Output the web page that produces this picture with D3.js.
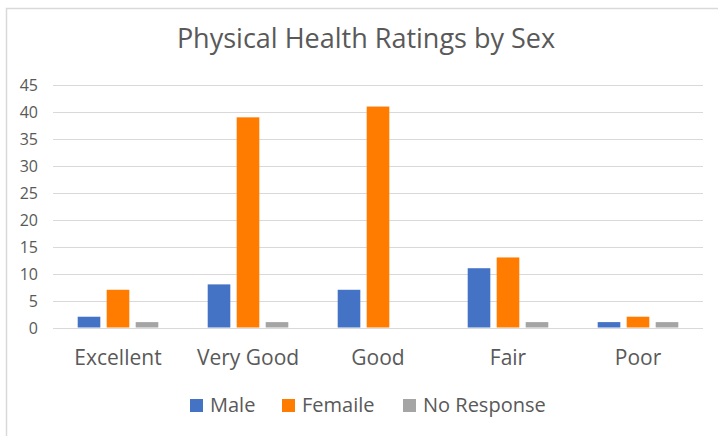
<!DOCTYPE html>
<html>
<head>
<meta charset="utf-8">
<script src="https://cdn.jsdelivr.net/npm/d3@7"></script>
<style>
  body { margin: 0; background: #fff; }
  svg { display: block; font-family: "Open Sans", "Liberation Sans", sans-serif; }
</style>
</head>
<body>
<svg></svg>
<script>
// grouped bar chart: physical health ratings by sex

var categories = ["Excellent", "Very Good", "Good", "Fair", "Poor"];
var seriesNames = ["Male", "Femaile", "No Response"];
var male = [2, 8, 7, 11, 1];
var female = [7, 39, 41, 13, 2];
var noResponse = [1, 1, 0, 1, 1];
var yTicks = [0, 5, 10, 15, 20, 25, 30, 35, 40, 45];

var color = ["#4472C4", "#FF7C00", "#A5A5A5"];
var font = "'Open Sans', 'Liberation Sans', sans-serif";

var width = 718;
var height = 436;

var data = categories.map(function(c, i) {
    return { cat: c, values: [male[i], female[i], noResponse[i]] };
});

var svg = d3.select("svg")
    .attr("width", width)
    .attr("height", height);

// chart frame
svg.append("path")
    .attr("d", "M6.5," + height + "V8.5H" + width)
    .attr("fill", "none")
    .attr("stroke", "#d9d9d9")
    .attr("stroke-width", 1.5);

var x0 = d3.scaleBand()
    .domain(categories)
    .range([53, 703])
    .paddingInner(0.38)
    .paddingOuter(0.19);

var x1 = d3.scaleBand()
    .domain(seriesNames)
    .range([0, x0.bandwidth()])
    .paddingInner(0.22);

var y = d3.scaleLinear()
    .domain([0, 45])
    .range([327.5, 85]);

// gridlines
svg.append("g")
    .selectAll("line")
    .data(yTicks)
    .enter()
    .append("line")
    .attr("x1", 53)
    .attr("x2", 703)
    .attr("y1", function(d) { return Math.round(y(d)) + 0.5; })
    .attr("y2", function(d) { return Math.round(y(d)) + 0.5; })
    .attr("stroke", "#d9d9d9")
    .attr("stroke-width", 1);

// y axis labels
var yAxis = d3.axisLeft(y).tickValues(yTicks).tickSize(0).tickPadding(0);
var gy = svg.append("g")
    .attr("transform", "translate(38,0)")
    .call(yAxis)
    .attr("font-family", font)
    .attr("font-size", 16);
gy.select(".domain").remove();
gy.selectAll("text")
    .attr("fill", "#595959")
    .attr("dy", "0.35em");

// bars
var groups = svg.append("g")
    .selectAll("g")
    .data(data)
    .enter()
    .append("g")
    .attr("transform", function(d) { return "translate(" + x0(d.cat) + ",0)"; });

groups.selectAll("rect")
    .data(function(d) { return d.values.map(function(v, i) { return { name: seriesNames[i], value: v, i: i }; }); })
    .enter()
    .append("rect")
    .attr("x", function(d) { return x1(d.name); })
    .attr("y", function(d) { return y(d.value); })
    .attr("width", x1.bandwidth())
    .attr("height", function(d) { return y(0) - y(d.value); })
    .attr("fill", function(d) { return color[d.i]; });

// x axis labels
var xAxis = d3.axisBottom(x0).tickSize(0).tickPadding(0);
var gx = svg.append("g")
    .call(xAxis)
    .attr("font-family", font)
    .attr("font-size", 21);
gx.select(".domain").remove();
gx.selectAll("text")
    .attr("y", 365)
    .attr("dy", null)
    .attr("fill", "#595959");

// title
svg.append("text")
    .attr("x", 366)
    .attr("y", 48)
    .attr("text-anchor", "middle")
    .attr("fill", "#595959")
    .style("font-size", "27px")
    .text("Physical Health Ratings by Sex");

// legend
var legendX = [190, 282, 403];
var legend = svg.append("g")
    .selectAll("g")
    .data(seriesNames)
    .enter()
    .append("g")
    .attr("transform", function(d, i) { return "translate(" + legendX[i] + ",399)"; });

legend.append("rect")
    .attr("width", 13)
    .attr("height", 13)
    .attr("fill", function(d, i) { return color[i]; });

legend.append("text")
    .attr("x", 20)
    .attr("y", 13)
    .attr("fill", "#595959")
    .style("font-size", "20px")
    .text(function(d) { return d; });
</script>
</body>
</html>
